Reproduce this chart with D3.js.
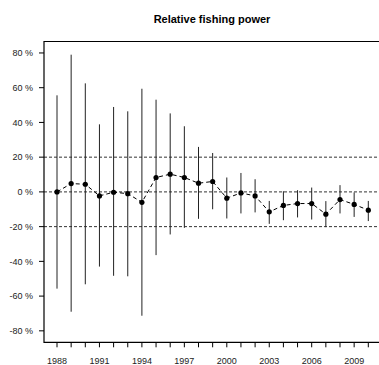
<!DOCTYPE html>
<html><head><meta charset="utf-8">
<script src="https://cdn.jsdelivr.net/npm/d3@7"></script>
<style>body{margin:0;background:#fff}svg{display:block}</style>
</head><body>
<script>
const years = [1988,1989,1990,1991,1992,1993,1994,1995,1996,1997,1998,1999,2000,2001,2002,2003,2004,2005,2006,2007,2008,2009,2010];
const estimate = [0,4.8,4.4,-2.3,-0.2,-1,-6,8.3,10.2,8.3,5,6,-3.6,-0.6,-2.3,-11.5,-7.8,-6.7,-6.7,-12.8,-4.4,-7.2,-10.5];
const upper = [55.6,79,62.5,38.9,48.9,46.4,59.4,53.1,45.2,37.8,25.9,22.4,8.3,10.9,7.3,-5.2,0.4,1,2.5,-5.3,3.9,-0.3,-5.2];
const lower = [-55.7,-69,-53.2,-43,-48.3,-48.6,-71.3,-36.4,-24.5,-20.7,-15.5,-10,-15.3,-12.4,-11.8,-18.4,-16.3,-14.7,-15.9,-20.3,-12.4,-14.4,-16.8];
const yTicks = [-80,-60,-40,-20,0,20,40,60,80];
const xLabelYears = [1988,1991,1994,1997,2000,2003,2006,2009];
const refLines = [-20,0,20];
const title = "Relative fishing power";

const W=379,H=365;
const pLeft=44, pTop=41.5, pBottom=342.3, pRight=379;
const svg=d3.select("body").append("svg").attr("width",W).attr("height",H)
  .style("font-family","'Liberation Sans',Arial,sans-serif");
const x=d3.scaleLinear().domain([1988,2010]).range([57,368.3]);
const y=d3.scaleLinear().domain([-86.6,86.6]).range([pBottom,pTop]);

svg.append("text").attr("x",212).attr("y",23).attr("text-anchor","middle")
  .attr("font-size",11).attr("font-weight","bold").text(title);

// reference lines
svg.selectAll(".ref").data(refLines).enter().append("line")
  .attr("x1",pLeft).attr("x2",pRight).attr("y1",d=>y(d)).attr("y2",d=>y(d))
  .attr("stroke","#333").attr("stroke-width",1).attr("stroke-dasharray","3,2");

// error bars
svg.selectAll(".err").data(years).enter().append("line")
  .attr("x1",d=>x(d)).attr("x2",d=>x(d))
  .attr("y1",(d,i)=>y(upper[i])).attr("y2",(d,i)=>y(lower[i]))
  .attr("stroke","#222").attr("stroke-width",1);

// dashed line
const line=d3.line().x((d,i)=>x(years[i])).y(d=>y(d));
svg.append("path").attr("d",line(estimate)).attr("fill","none")
  .attr("stroke","#000").attr("stroke-width",1).attr("stroke-dasharray","4,3");

svg.selectAll(".pt").data(estimate).enter().append("circle")
  .attr("cx",(d,i)=>x(years[i])).attr("cy",d=>y(d)).attr("r",2.6).attr("fill","#000");

// box lines
svg.append("path").attr("d",`M${pRight},${pTop}H${pLeft}V${pBottom}H${pRight}`)
  .attr("fill","none").attr("stroke","#000").attr("stroke-width",1.2);

// y axis ticks
const yg=svg.append("g");
yTicks.forEach(t=>{
  yg.append("line").attr("x1",39).attr("x2",pLeft).attr("y1",y(t)).attr("y2",y(t)).attr("stroke","#000");
  yg.append("text").attr("x",33).attr("y",y(t)+3.2).attr("text-anchor","end")
    .attr("font-size",9).attr("fill","#222").text(t+" %");
});
// x axis ticks
const xg=svg.append("g");
years.forEach(t=>{
  xg.append("line").attr("x1",x(t)).attr("x2",x(t)).attr("y1",pBottom).attr("y2",pBottom+5).attr("stroke","#000");
});
xLabelYears.forEach(t=>{
  xg.append("text").attr("x",x(t)).attr("y",364).attr("text-anchor","middle")
    .attr("font-size",9).attr("fill","#222").text(t);
});
</script>
</body></html>
